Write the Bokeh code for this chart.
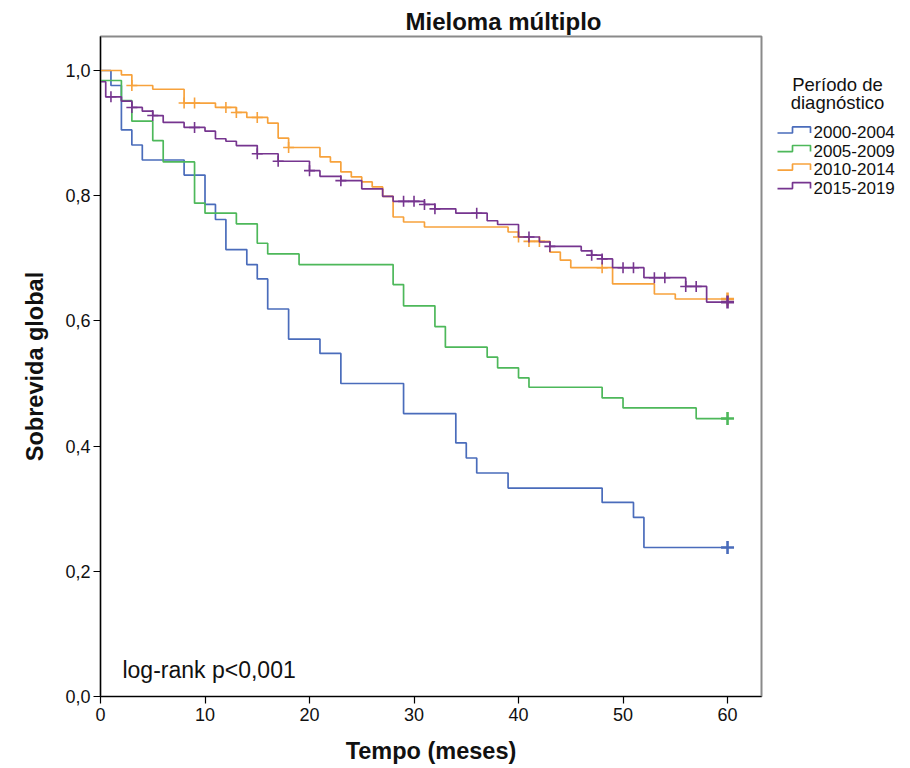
from bokeh.plotting import figure
from bokeh.models import Range1d, FixedTicker, Label
from bokeh.layouts import row
from bokeh.embed import file_html
from bokeh.resources import INLINE
from bokeh.core.properties import value

FONT = "Liberation Sans"
TXT = "#111111"

# ---------------- data ----------------
series_names = ["2000-2004", "2005-2009", "2010-2014", "2015-2019"]
series_colors = ["#4A6CBB", "#4DB85A", "#F7A23C", "#76358F"]

blue_t = [0, 1, 2, 3, 4, 8, 10, 11, 12, 14, 15, 16, 18, 21, 23, 29, 34, 35, 36, 39, 48, 51, 52]
blue_s = [1.0, 0.976, 0.905, 0.881, 0.857, 0.833, 0.786, 0.762, 0.714, 0.690, 0.667, 0.619,
          0.571, 0.548, 0.500, 0.452, 0.405, 0.381, 0.357, 0.333, 0.310, 0.286, 0.238]
blue_cens = [60]

green_t = [0, 2, 3, 5, 6, 9, 10, 13, 15, 16, 19, 28, 29, 32, 33, 37, 38, 40, 41, 48, 50, 57]
green_s = [0.984, 0.952, 0.919, 0.888, 0.854, 0.788, 0.772, 0.755, 0.724, 0.707, 0.690, 0.658,
           0.624, 0.591, 0.558, 0.542, 0.525, 0.509, 0.494, 0.477, 0.461, 0.444]
green_cens = [60]

orange_t = [0, 2, 3, 5, 8, 11, 13, 14, 16, 17, 18, 21, 22, 23, 24, 25, 26, 27, 28, 29, 31,
            39, 40, 41, 43, 44, 45, 49, 53, 55]
orange_s = [1.0, 0.993, 0.976, 0.970, 0.948, 0.941, 0.933, 0.925, 0.916, 0.892, 0.877, 0.862,
            0.854, 0.838, 0.830, 0.822, 0.814, 0.799, 0.766, 0.758, 0.750, 0.742, 0.734, 0.727,
            0.710, 0.697, 0.685, 0.659, 0.643, 0.635]
orange_cens = [3, 8, 9, 12, 13, 15, 18, 40, 41, 42, 48, 60]

purple_t = [0, 0.5, 2, 3, 4, 5, 6, 8, 10, 11, 12, 13, 15, 17, 20, 21, 23, 25, 27, 28, 31, 32,
            34, 37, 38, 40, 42, 43, 46, 47, 48, 49, 52, 56, 58]
purple_s = [0.982, 0.958, 0.951, 0.941, 0.935, 0.928, 0.917, 0.909, 0.903, 0.891, 0.887, 0.880,
            0.867, 0.855, 0.840, 0.831, 0.824, 0.811, 0.799, 0.791, 0.786, 0.779, 0.772, 0.760,
            0.754, 0.734, 0.726, 0.719, 0.712, 0.705, 0.699, 0.685, 0.669, 0.655, 0.630]
purple_cens = [1, 3, 5, 9, 15, 17, 20, 23, 29, 30, 31, 32, 36, 41, 43, 47, 48, 50, 51, 53, 54,
               56, 57, 60]

series_times = [blue_t, green_t, orange_t, purple_t]
series_surv = [blue_s, green_s, orange_s, purple_s]
series_cens = [blue_cens, green_cens, orange_cens, purple_cens]

follow_up_end = 60

x_ticks = [0, 10, 20, 30, 40, 50, 60]
x_tick_labels = ["0", "10", "20", "30", "40", "50", "60"]
y_ticks = [0.0, 0.2, 0.4, 0.6, 0.8, 1.0]
y_tick_labels = ["0,0", "0,2", "0,4", "0,6", "0,8", "1,0"]

title_text = "Mieloma múltiplo"
x_title = "Tempo (meses)"
y_title = "Sobrevida global"
legend_title = ["Período de", "diagnóstico"]
note_text = "log-rank p<0,001"


def surv_at(times, surv, t):
    s = surv[0]
    for ti, si in zip(times, surv):
        if ti <= t:
            s = si
    return s


# ---------------- main plot ----------------
p = figure(width=771, height=766, x_range=Range1d(0, 63.25), y_range=Range1d(0, 1.0543),
           min_border_left=100, min_border_right=10, min_border_top=36, min_border_bottom=70,
           output_backend="svg", toolbar_location=None, title=title_text)
p.grid.visible = False
p.outline_line_color = "#8a8a8a"
p.outline_line_width = 2
p.background_fill_color = "white"
p.border_fill_color = "white"

p.title.text_font = FONT
p.title.text_font_size = "24px"
p.title.text_font_style = "bold"
p.title.text_color = TXT
p.title.align = "left"
p.title.offset = 305
p.title.standoff = 4

for times, surv, cens, col in zip(series_times, series_surv, series_cens, series_colors):
    xs = list(times) + [follow_up_end]
    ys = list(surv) + [surv[-1]]
    p.step(xs, ys, mode="after", line_color=col, line_width=1.7)
    inner = [c for c in cens if c < max(cens)]
    if inner:
        p.scatter(inner, [surv_at(times, surv, c) for c in inner], marker="cross", size=11,
                  line_color=col, line_width=1.6)
    last = max(cens)
    p.scatter([last], [surv_at(times, surv, last)], marker="cross", size=13,
              line_color=col, line_width=2.6)

for ax in (p.xaxis[0], p.yaxis[0]):
    ax.axis_line_color = "black"
    ax.axis_line_width = 1.2
    ax.major_tick_line_color = "black"
    ax.major_tick_line_width = 1.2
    ax.major_tick_out = 7
    ax.major_tick_in = 0
    ax.minor_tick_out = 0
    ax.minor_tick_in = 0
    ax.major_label_text_font = FONT
    ax.major_label_text_font_size = "18px"
    ax.major_label_text_color = TXT
    ax.axis_label_text_font = FONT
    ax.axis_label_text_font_style = "bold"
    ax.axis_label_text_font_size = "23.5px"
    ax.axis_label_text_color = TXT

p.xaxis.ticker = FixedTicker(ticks=x_ticks)
p.xaxis.major_label_overrides = dict(zip(x_ticks, x_tick_labels))
p.xaxis.axis_label = x_title
p.xaxis.major_label_standoff = 4
p.xaxis.axis_label_standoff = 14

p.yaxis.ticker = FixedTicker(ticks=y_ticks)
p.yaxis.major_label_overrides = dict(zip(y_ticks, y_tick_labels))
p.yaxis.axis_label = y_title
p.yaxis.major_label_standoff = 3
p.yaxis.axis_label_standoff = 14

p.add_layout(Label(x=2.1, y=0.042, text=note_text, text_font=FONT, text_font_size="23px",
                   text_color=TXT, text_baseline="middle", text_align="left"))

# ---------------- legend panel ----------------
lg = figure(width=131, height=766, x_range=Range1d(0, 131), y_range=Range1d(766, 0),
            min_border=0, output_backend="svg", toolbar_location=None,
            x_axis_location=None, y_axis_location=None)
lg.grid.visible = False
lg.outline_line_color = None
lg.background_fill_color = "white"
lg.border_fill_color = "white"

lg.text(x=[66, 66], y=[56, 77], text=legend_title, text_align="center", text_baseline="middle",
        text_font=value(FONT), text_font_size="18.5px", text_color=TXT)
for i, (name, col) in enumerate(zip(series_names, series_colors)):
    cy = 111 + 21.5 * i
    lg.line([6, 21, 21, 39, 39], [cy + 1, cy + 1, cy - 6, cy - 6, cy + 1],
            line_color=col, line_width=1.7)
    lg.text(x=[42], y=[cy], text=[name], text_align="left", text_baseline="middle",
            text_font=value(FONT), text_font_size="17px", text_color=TXT)

layout = row(p, lg)
open("out.html", "w").write(file_html(layout, INLINE))
